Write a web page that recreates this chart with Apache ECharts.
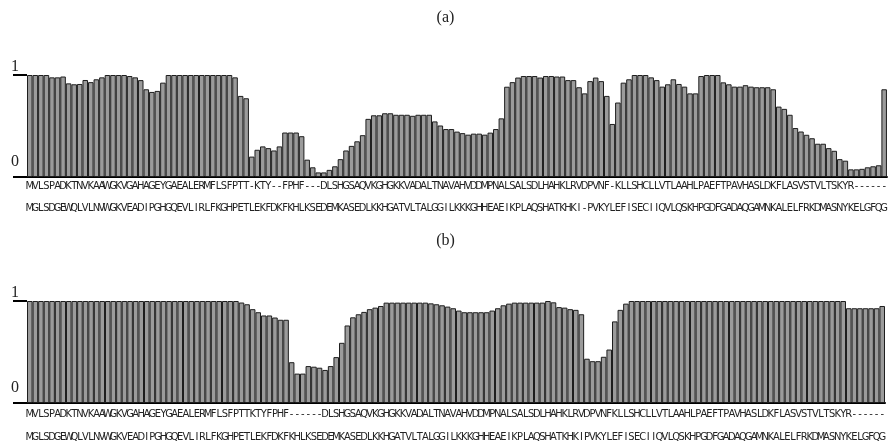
<!DOCTYPE html>
<html>
<head>
<meta charset="utf-8">
<script src="https://cdn.jsdelivr.net/npm/echarts@6/dist/echarts.min.js"></script>
<style>
  html, body { margin: 0; padding: 0; background: #fff; }
  #chart { width: 891px; height: 443px; }
</style>
</head>
<body>
<div id="chart"></div>
<script>
// Alignment rows (one letter per column)
const seqTopA = 'MVLSPADKTNVKAAWGKVGAHAGEYGAEALERMFLSFPTT-KTY--FPHF---DLSHGSAQVKGHGKKVADALTNAVAHVDDMPNALSALSDLHAHKLRVDPVNF-KLLSHCLLVTLAAHLPAEFTPAVHASLDKFLASVSTVLTSKYR------'.split('');
const seqBotA = 'MGLSDGEWQLVLNVWGKVEADIPGHGQEVLIRLFKGHPETLEKFDKFKHLKSEDEMKASEDLKKHGATVLTALGGILKKKGHHEAEIKPLAQSHATKHKI-PVKYLEFISECIIQVLQSKHPGDFGADAQGAMNKALELFRKDMASNYKELGFQG'.split('');
const seqTopB = 'MVLSPADKTNVKAAWGKVGAHAGEYGAEALERMFLSFPTTKTYFPHF------DLSHGSAQVKGHGKKVADALTNAVAHVDDMPNALSALSDLHAHKLRVDPVNFKLLSHCLLVTLAAHLPAEFTPAVHASLDKFLASVSTVLTSKYR------'.split('');
const seqBotB = 'MGLSDGEWQLVLNVWGKVEADIPGHGQEVLIRLFKGHPETLEKFDKFKHLKSEDEMKASEDLKKHGATVLTALGGILKKKGHHEAEIKPLAQSHATKHKIPVKYLEFISECIIQVLQSKHPGDFGADAQGAMNKALELFRKDMASNYKELGFQG'.split('');

// Panel (a) column scores
const valuesA = [
  1, 1, 1, 1, 0.977, 0.977, 0.985, 0.918, 0.909, 0.912,
  0.951, 0.93, 0.958, 0.977, 1, 1, 1, 1, 0.99, 0.977,
  0.95, 0.86, 0.834, 0.844, 0.925, 1, 1, 1, 1, 1,
  1, 1, 1, 1, 1, 1, 1, 0.977, 0.795, 0.772,
  0.2, 0.267, 0.3, 0.283, 0.26, 0.3, 0.436, 0.436, 0.436, 0.4,
  0.17, 0.095, 0.045, 0.045, 0.07, 0.105, 0.175, 0.26, 0.305, 0.35,
  0.41, 0.57, 0.605, 0.605, 0.625, 0.625, 0.61, 0.61, 0.61, 0.6,
  0.61, 0.61, 0.61, 0.545, 0.505, 0.47, 0.47, 0.445, 0.43, 0.415,
  0.425, 0.425, 0.415, 0.435, 0.47, 0.575, 0.885, 0.93, 0.975, 0.99,
  0.99, 0.99, 0.975, 0.99, 0.99, 0.985, 0.985, 0.95, 0.95, 0.88,
  0.82, 0.94, 0.975, 0.94, 0.795, 0.52, 0.73, 0.925, 0.958, 1,
  1, 1, 0.977, 0.95, 0.886, 0.909, 0.958, 0.912, 0.886, 0.82,
  0.82, 0.99, 1, 1, 1, 0.928, 0.909, 0.886, 0.886, 0.9,
  0.886, 0.88, 0.88, 0.88, 0.86, 0.69, 0.668, 0.61, 0.48, 0.446,
  0.414, 0.38, 0.326, 0.326, 0.283, 0.257, 0.175, 0.16, 0.075, 0.075,
  0.08, 0.095, 0.105, 0.115, 0.86
];

// Panel (b) column scores
const valuesB = [
  1, 1, 1, 1, 1, 1, 1, 1, 1, 1,
  1, 1, 1, 1, 1, 1, 1, 1, 1, 1,
  1, 1, 1, 1, 1, 1, 1, 1, 1, 1,
  1, 1, 1, 1, 1, 1, 1, 1, 0.985, 0.968,
  0.92, 0.89, 0.858, 0.858, 0.838, 0.816, 0.816, 0.4, 0.288, 0.288,
  0.362, 0.356, 0.346, 0.324, 0.362, 0.45, 0.59, 0.76, 0.84, 0.87,
  0.893, 0.92, 0.935, 0.951, 0.984, 0.984, 0.984, 0.984, 0.984, 0.984,
  0.984, 0.984, 0.977, 0.968, 0.958, 0.945, 0.929, 0.906, 0.89, 0.89,
  0.89, 0.89, 0.89, 0.906, 0.929, 0.958, 0.974, 0.984, 0.984, 0.984,
  0.984, 0.984, 0.984, 1, 0.987, 0.94, 0.935, 0.92, 0.913, 0.87,
  0.434, 0.41, 0.41, 0.453, 0.524, 0.8, 0.913, 0.974, 1, 1,
  1, 1, 1, 1, 1, 1, 1, 1, 1, 1,
  1, 1, 1, 1, 1, 1, 1, 1, 1, 1,
  1, 1, 1, 1, 1, 1, 1, 1, 1, 1,
  1, 1, 1, 1, 1, 1, 1, 0.929, 0.929, 0.929,
  0.929, 0.929, 0.929, 0.951
];

const panelTitles = ['(a)', '(b)'];

// Column ids used as categories
const columnsA = seqTopA.map((c, i) => 'c' + i);
const columnsB = seqTopB.map((c, i) => 'c' + i);

const SERIF = "'Liberation Serif', 'DejaVu Serif', serif";
const NARROW = "'Liberation Sans Narrow', 'DejaVu Sans Condensed', 'Liberation Sans', sans-serif";

// One row of sequence letters under a panel
function letterAxis(gridIndex, columns, letters, offset, margin) {
    return {
        type: 'category',
        gridIndex: gridIndex,
        data: columns,
        position: 'bottom',
        offset: offset,
        axisLine: { show: offset === 0, lineStyle: { color: '#000', width: 2 } },
        axisTick: { show: false },
        splitLine: { show: false },
        axisLabel: {
            interval: 0,
            margin: margin,
            fontFamily: NARROW,
            fontSize: 11,
            color: '#222',
            formatter: (v, i) => letters[i]
        }
    };
}

// 0 / 1 scale with labels lifted above the ticks
function scoreAxis(gridIndex) {
    return {
        type: 'value',
        gridIndex: gridIndex,
        min: 0,
        max: 1,
        interval: 1,
        axisLine: { show: false },
        axisTick: { show: true, length: 14, lineStyle: { color: '#000', width: 2 } },
        splitLine: { show: false },
        axisLabel: {
            margin: 8,
            color: '#222',
            formatter: v => v === 1 ? '{one|1}' : '{zero|0}',
            rich: {
                one: { fontFamily: SERIF, fontSize: 16, color: '#222', padding: [0, 0, 17, 0] },
                zero: { fontFamily: SERIF, fontSize: 16, color: '#222', padding: [0, 0, 31, 0] }
            }
        }
    };
}

function barSeries(xIndex, yIndex, values) {
    return {
        type: 'bar',
        xAxisIndex: xIndex,
        yAxisIndex: yIndex,
        data: values,
        barCategoryGap: '0%',
        silent: true,
        itemStyle: { color: '#9b9b9b', borderColor: '#1e1e1e', borderWidth: 1 }
    };
}

const chart = echarts.init(document.getElementById('chart'));

chart.setOption({
    animation: false,
    backgroundColor: '#fff',
    title: panelTitles.map((t, i) => ({
        text: t,
        left: 'center',
        top: i === 0 ? 10 : 233,
        padding: 0,
        textStyle: { fontFamily: SERIF, fontSize: 16, fontWeight: 'normal', color: '#222' }
    })),
    grid: [
        { left: 27, right: 0, top: 75, height: 102 },
        { left: 27, right: 6, top: 301, height: 103 }
    ],
    xAxis: [
        letterAxis(0, columnsA, seqTopA, 0, 4),
        letterAxis(0, columnsA, seqBotA, 22, 4),
        letterAxis(1, columnsB, seqTopB, 0, 6),
        letterAxis(1, columnsB, seqBotB, 23, 6)
    ],
    yAxis: [scoreAxis(0), scoreAxis(1)],
    series: [
        barSeries(0, 0, valuesA),
        barSeries(2, 1, valuesB)
    ]
});
</script>
</body>
</html>
